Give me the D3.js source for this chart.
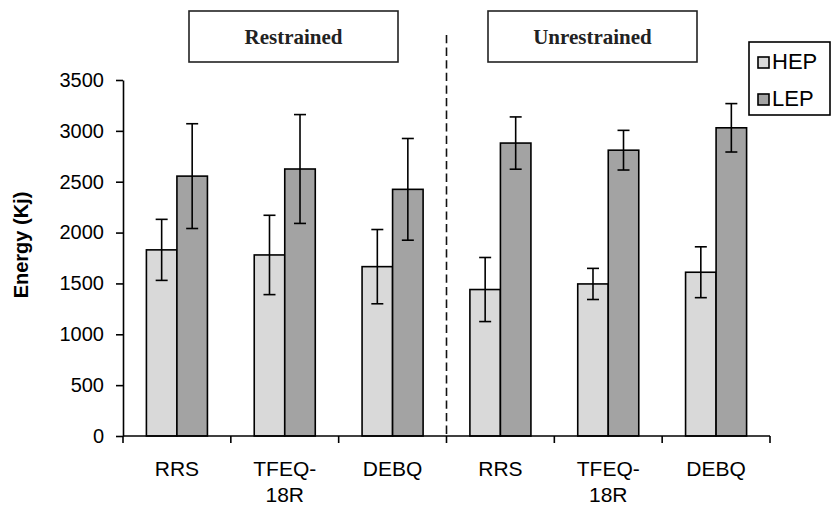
<!DOCTYPE html>
<html>
<head>
<meta charset="utf-8">
<script src="https://cdn.jsdelivr.net/npm/d3@7"></script>
<style>
  body { margin: 0; background: #fff; }
  svg { display: block; }
  text { font-family: "Liberation Sans", Arial, sans-serif; fill: #000; }
</style>
</head>
<body>
<svg id="chart" width="831" height="505"></svg>
<script>
// data
const categories = ["RRS", "TFEQ-\n18R", "DEBQ", "RRS", "TFEQ-\n18R", "DEBQ"];
const groups = ["Restrained", "Unrestrained"];
const series = ["HEP", "LEP"];
const hepValues = [1830, 1780, 1665, 1440, 1495, 1610];
const hepErrors = [300, 390, 365, 315, 153, 250];
const lepValues = [2555, 2625, 2425, 2880, 2810, 3030];
const lepErrors = [515, 535, 500, 257, 195, 238];
const yTicks = [0, 500, 1000, 1500, 2000, 2500, 3000, 3500];

const colors = {HEP: "#d9d9d9", LEP: "#a3a3a3"};

// layout
const plotLeft = 123, plotRight = 770, plotTop = 80, plotBottom = 436;
const svg = d3.select("#chart");

const x = d3.scaleBand()
  .domain(d3.range(categories.length))
  .range([plotLeft, plotRight])
  .paddingInner(0.434)
  .paddingOuter(0.217);
const xs = d3.scaleBand().domain(series).range([0, x.bandwidth()]);
const y = d3.scaleLinear().domain([0, 3500]).range([plotBottom, plotTop]);

const rows = categories.map((c, i) => ({
  i: i,
  bars: [
    {s: "HEP", v: hepValues[i], e: hepErrors[i]},
    {s: "LEP", v: lepValues[i], e: lepErrors[i]}
  ]
}));

// group divider
svg.append("line")
  .attr("x1", plotLeft + x.step() * 3).attr("x2", plotLeft + x.step() * 3)
  .attr("y1", 35).attr("y2", plotBottom)
  .attr("stroke", "#111").attr("stroke-width", 1.6)
  .attr("stroke-dasharray", "8.3,4.3");

// bars
const cat = svg.selectAll(".cat").data(rows).enter().append("g")
  .attr("class", "cat")
  .attr("transform", d => "translate(" + x(d.i) + ",0)");

cat.selectAll("rect").data(d => d.bars).enter().append("rect")
  .attr("x", d => xs(d.s))
  .attr("y", d => y(d.v))
  .attr("width", xs.bandwidth())
  .attr("height", d => y(0) - y(d.v))
  .attr("fill", d => colors[d.s])
  .attr("stroke", "#000")
  .attr("stroke-width", 1.6);

// error bars
const err = cat.selectAll(".err").data(d => d.bars).enter().append("g")
  .attr("class", "err")
  .attr("stroke", "#000").attr("stroke-width", 1.6);
err.append("line")
  .attr("x1", d => xs(d.s) + xs.bandwidth() / 2)
  .attr("x2", d => xs(d.s) + xs.bandwidth() / 2)
  .attr("y1", d => y(d.v + d.e)).attr("y2", d => y(d.v - d.e));
err.append("line")
  .attr("x1", d => xs(d.s) + xs.bandwidth() / 2 - 6)
  .attr("x2", d => xs(d.s) + xs.bandwidth() / 2 + 6)
  .attr("y1", d => y(d.v + d.e)).attr("y2", d => y(d.v + d.e));
err.append("line")
  .attr("x1", d => xs(d.s) + xs.bandwidth() / 2 - 6)
  .attr("x2", d => xs(d.s) + xs.bandwidth() / 2 + 6)
  .attr("y1", d => y(d.v - d.e)).attr("y2", d => y(d.v - d.e));

// y axis
const yAxis = svg.append("g")
  .attr("transform", "translate(" + plotLeft + ",0)")
  .call(d3.axisLeft(y).tickValues(yTicks).tickFormat(d3.format("d"))
    .tickSize(7).tickPadding(12).tickSizeOuter(0));
yAxis.selectAll("text").style("font-size", "20px").attr("font-family", null);
yAxis.selectAll("line, path").attr("stroke", "#000").attr("stroke-width", 1.6);

// x axis: ticks at category boundaries
const xAxis = svg.append("g").attr("transform", "translate(0," + plotBottom + ")");
xAxis.append("line").attr("x1", plotLeft).attr("x2", plotRight)
  .attr("stroke", "#000").attr("stroke-width", 1.6);
xAxis.selectAll(".tk").data(d3.range(categories.length + 1)).enter().append("line")
  .attr("x1", d => plotLeft + d * x.step()).attr("x2", d => plotLeft + d * x.step())
  .attr("y1", 0).attr("y2", 7)
  .attr("stroke", "#000").attr("stroke-width", 1.6);
const lbl = xAxis.selectAll(".lbl").data(categories).enter().append("text")
  .attr("text-anchor", "middle")
  .attr("transform", (d, i) => "translate(" + (x(i) + x.bandwidth() / 2) + ",40)")
  .style("font-size", "21px");
lbl.selectAll("tspan").data(d => d.split("\n")).enter().append("tspan")
  .attr("x", 0).attr("dy", (d, k) => k ? 26 : 0)
  .text(d => d);

// y axis title
svg.append("text")
  .attr("transform", "translate(28,245) rotate(-90)")
  .attr("text-anchor", "middle")
  .style("font-size", "20px").style("font-weight", "bold")
  .text("Energy (Kj)");

// group headers
const headerX = [189, 488];
const hdr = svg.selectAll(".hdr").data(groups).enter().append("g")
  .attr("class", "hdr")
  .attr("transform", (d, i) => "translate(" + headerX[i] + ",11)");
hdr.append("rect").attr("width", 209).attr("height", 51)
  .attr("fill", "#fff").attr("stroke", "#222").attr("stroke-width", 1.6);
hdr.append("text")
  .attr("x", 104.5).attr("y", 33)
  .attr("text-anchor", "middle")
  .style("font-family", "'Liberation Serif', 'Times New Roman', serif")
  .style("font-size", "21px").style("font-weight", "bold")
  .style("fill", "#222")
  .text(d => d);

// legend
const legend = svg.append("g").attr("transform", "translate(749,42)");
legend.append("rect").attr("width", 81).attr("height", 73)
  .attr("fill", "#fff").attr("stroke", "#000").attr("stroke-width", 1.6);
const li = legend.selectAll(".li").data(series).enter().append("g")
  .attr("transform", (d, i) => "translate(9," + (15 + i * 37) + ")");
li.append("rect").attr("width", 11).attr("height", 11)
  .attr("fill", d => colors[d]).attr("stroke", "#000").attr("stroke-width", 1.6);
li.append("text").attr("x", 14).attr("y", 12)
  .style("font-size", "22px")
  .text(d => d);
</script>
</body>
</html>
